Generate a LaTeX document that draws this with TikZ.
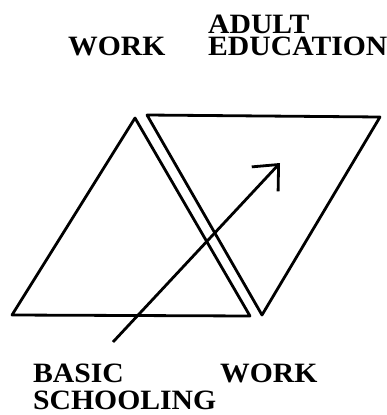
\documentclass[tikz,border=0pt]{standalone}
\usepackage{fontspec}
\setmainfont{Liberation Serif}[FakeStretch=1.06]
\usetikzlibrary{arrows.meta}
\begin{document}
\begin{tikzpicture}[x=1pt,y=-1pt,
  outline/.style={line width=2.8pt,line join=round},
  lab/.style={anchor=base west,inner sep=0pt,font=\fontsize{28}{30}\selectfont\bfseries},
  arr/.style={line width=2.8pt,-{Straight Barb[length=20pt,width=36pt]}}]
\useasboundingbox (0,0) rectangle (387,415);
% triangle
\coordinate (ta) at (135,118);
\coordinate (tl) at (12,315);
\coordinate (tr) at (250,316);
\draw[outline] (ta) -- (tl) -- (tr) -- cycle;
% inverted triangle
\coordinate (ul) at (147,115);
\coordinate (ur) at (380,117);
\coordinate (ub) at (262,315);
\draw[outline] (ul) -- (ur) -- (ub) -- cycle;
% arrow
\coordinate (tail) at (113,342);
\coordinate (tip) at (280,163);
\draw[arr] (tail) -- (tip);
% labels
\node[lab] (adult) at (208,33) {ADULT};
\node[lab] (educ) at (208,55) {EDUCATION};
\node[lab] (worktop) at (68,55) {WORK};
\node[lab] (basic) at (33,382) {BASIC};
\node[lab] (school) at (33,409) {SCHOOLING};
\node[lab] (workbot) at (220,382) {WORK};
\end{tikzpicture}
\end{document}
